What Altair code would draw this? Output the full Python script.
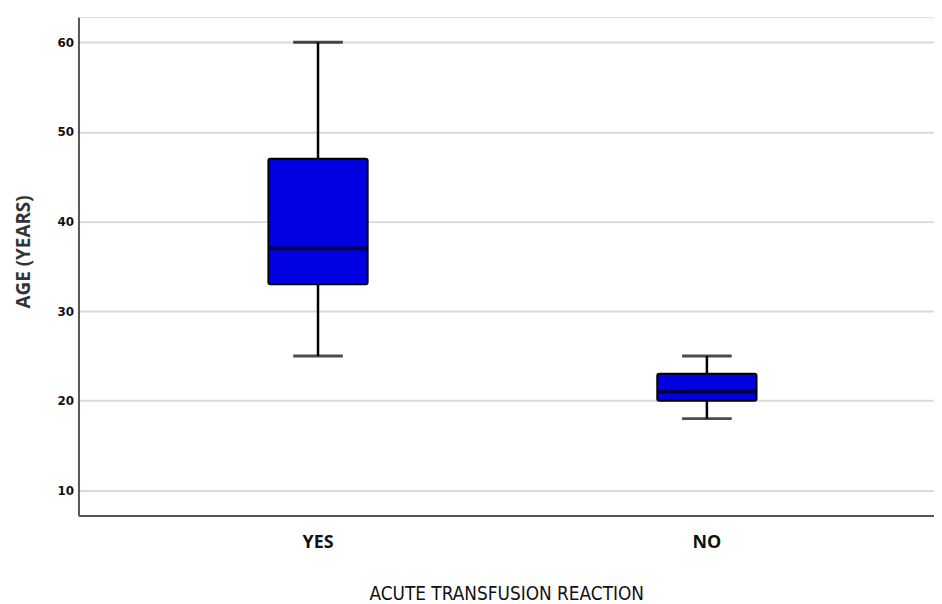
import altair as alt
import pandas as pd

groups = ["YES", "NO"]
whisker_low = [25, 18]
q1 = [33, 20]
median = [37, 21]
q3 = [47, 23]
whisker_high = [60, 25]

y_ticks = [10, 20, 30, 40, 50, 60]

df = pd.DataFrame({
    "group": groups,
    "lo": whisker_low,
    "q1": q1,
    "med": median,
    "q3": q3,
    "hi": whisker_high,
})

xenc = alt.X(
    "group:N",
    sort=groups,
    scale=alt.Scale(paddingInner=0, paddingOuter=0.1, align=0.58),
    axis=alt.Axis(
        title="ACUTE TRANSFUSION REACTION",
        labelAngle=0,
        labelFont="Open Sans",
        labelFontWeight="bold",
        labelFontSize=18,
        labelColor="#111",
        labelPadding=18,
        ticks=False,
        domainColor="#555",
        domainWidth=2,
        titleFont="DejaVu Sans Condensed, Roboto, sans-serif",
        titleFontWeight="normal",
        titleFontSize=19,
        titleColor="#111",
        titlePadding=34,
        grid=False,
    ),
)

yscale = alt.Scale(domain=[7.2, 62.8], nice=False, zero=False)
yaxis = alt.Axis(
    title="AGE (YEARS)",
    values=y_ticks,
    labelFont="DejaVu Sans",
    labelFontWeight="bold",
    labelFontSize=12,
    labelColor="#111",
    labelPadding=5,
    ticks=False,
    domainColor="#555",
    domainWidth=2,
    gridColor="#d9d9d9",
    gridWidth=2,
    titleFont="Open Sans",
    titleFontWeight="bold",
    titleFontSize=19,
    titleColor="#333",
    titlePadding=24,
    titleY=236,
)

base = alt.Chart(df)

whisk = base.mark_rule(color="black", strokeWidth=2.5).encode(
    x=xenc,
    y=alt.Y("lo:Q", scale=yscale, axis=yaxis),
    y2="hi:Q",
)

box = base.mark_bar(size=100, color="#0000e0", stroke="black", strokeWidth=2, cornerRadius=2).encode(
    x=xenc,
    y=alt.Y("q1:Q", scale=yscale, axis=yaxis),
    y2="q3:Q",
)

med = base.mark_tick(size=100, thickness=4, color="black").encode(
    x=xenc,
    y=alt.Y("med:Q", scale=yscale),
)

cap_lo = base.mark_tick(size=50, thickness=3, color="black").encode(
    x=xenc,
    y=alt.Y("lo:Q", scale=yscale),
)
cap_hi = base.mark_tick(size=50, thickness=3, color="black").encode(
    x=xenc,
    y=alt.Y("hi:Q", scale=yscale),
)

chart = alt.layer(whisk, box, med, cap_lo, cap_hi).properties(
    width=862,
    height=502,
    autosize=alt.AutoSizeParams(type="none"),
    padding={"left": 71, "top": 7, "right": 0, "bottom": 86},
).configure_view(stroke=None).configure(background="white")

chart.save("out.html", embed_options={"renderer": "svg", "actions": False})
